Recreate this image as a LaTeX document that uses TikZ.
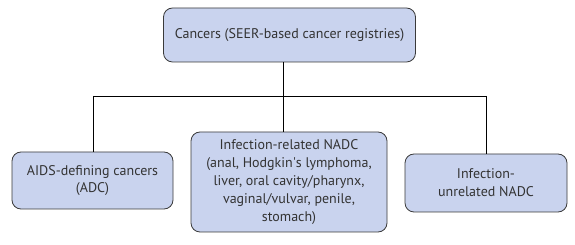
\documentclass[tikz,border=0pt]{standalone}
\usepackage{fontspec}
\setmainfont{PT Sans}
\definecolor{boxfill}{HTML}{C9D3EE}
\definecolor{boxline}{HTML}{3A3A3A}
\begin{document}
\begin{tikzpicture}[x=1pt,y=-1pt,
  cbox/.style={draw=boxline,line width=0.8pt,fill=boxfill,rounded corners=9pt,align=center,
    font=\fontsize{14}{17.8}\selectfont,text=black!80,inner sep=0pt},
  conn/.style={draw=black,line width=0.8pt}]
\useasboundingbox (0,0) rectangle (575,245);
\node[cbox,minimum width=252pt,minimum height=54pt] (top) at (289.5,35) {Cancers (SEER-based cancer registries)};
\node[cbox,minimum width=161pt,minimum height=57pt] (adc) at (92.5,180.5) {AIDS-defining cancers\\(ADC)};
\node[cbox,minimum width=196pt,minimum height=100pt] (ir) at (289,182) {Infection-related NADC\\(anal, Hodgkin\textquotesingle s lymphoma,\\liver, oral cavity/pharynx,\\vaginal/vulvar, penile,\\stomach)};
\node[cbox,minimum width=162pt,minimum height=58pt] (iu) at (486,183) {Infection-\\unrelated NADC};
\coordinate (j) at (283,96);
\coordinate (jl) at (93,96);
\coordinate (jr) at (486,96);
\draw[conn] (top.south -| j) -- (j);
\draw[conn] (jl) -- (jr);
\draw[conn] (jl) -- (jl |- adc.north);
\draw[conn] (j) -- (j |- ir.north);
\draw[conn] (jr) -- (iu.north);
\end{tikzpicture}
\end{document}
